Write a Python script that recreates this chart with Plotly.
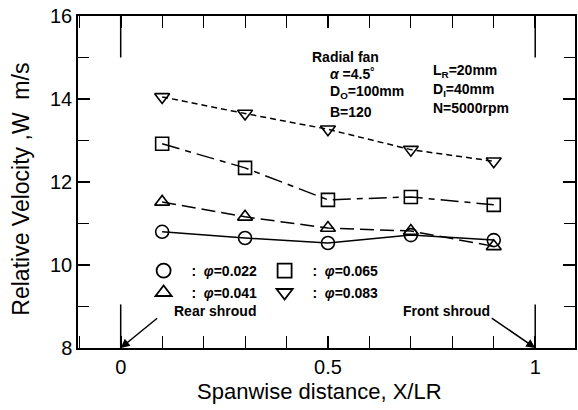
import plotly.graph_objects as go

x_pos = [0.1, 0.3, 0.5, 0.7, 0.9]
w_022 = [10.80, 10.65, 10.53, 10.72, 10.60]
w_041 = [11.52, 11.16, 10.89, 10.82, 10.45]
w_065 = [12.92, 12.34, 11.57, 11.64, 11.45]
w_083 = [14.05, 13.65, 13.27, 12.78, 12.50]

series = [
    ("0.022", w_022, "circle-open", "solid", "legend"),
    ("0.065", w_065, "square-open", "18px,6px,6px,6px", "legend"),
    ("0.041", w_041, "triangle-up-open", "14px,6px", "legend2"),
    ("0.083", w_083, "triangle-down-open", "6px,4px", "legend2"),
]

FONT = "Liberation Sans, Arial, sans-serif"
fig = go.Figure()
for name, vals, sym, dash, lg in series:
    fig.add_trace(go.Scatter(
        x=x_pos, y=vals, mode="lines+markers", showlegend=False,
        line=dict(color="black", width=1.5, dash=dash),
        marker=dict(symbol=sym, size=13, color="black", line=dict(width=1.6, color="black")),
    ))
for name, vals, sym, dash, lg in series:
    fig.add_trace(go.Scatter(
        x=[None], y=[None], mode="markers", name=f"<b>  :  <i>φ</i>={name}</b>",
        legend=lg,
        marker=dict(symbol=sym, size=14, color="black", line=dict(width=1.8, color="black")),
    ))

axis_common = dict(
    showline=True, linecolor="black", linewidth=1.5, mirror="ticks",
    ticks="inside", tickcolor="black", tickwidth=1.5, showgrid=False, zeroline=False,
    tickfont=dict(family=FONT, size=20, color="black"),
)
fig.update_xaxes(range=[-0.103, 1.096], tickvals=[0, 0.5, 1], ticktext=["0", "0.5", "1"],
                 ticklen=12, minor=dict(dtick=0.1, ticks="inside", ticklen=12, tickcolor="black", tickwidth=1.2),
                 **axis_common)
fig.update_yaxes(range=[8, 16], tickvals=[8, 10, 12, 14, 16], ticklen=12,
                 minor=dict(dtick=1, ticks="inside", ticklen=11, tickcolor="black", tickwidth=1.2),
                 **axis_common)

# axis titles
fig.add_annotation(xref="paper", yref="paper", x=0.485, y=-0.1325, text="Spanwise distance, X/LR",
                   showarrow=False, xanchor="center", yanchor="middle",
                   font=dict(family=FONT, size=22, color="black"))
fig.add_annotation(xref="paper", yref="paper", x=-0.114, y=0.478, text="Relative Velocity ,W  m/s",
                   textangle=-90, showarrow=False, xanchor="center", yanchor="middle",
                   font=dict(family=FONT, size=23, color="black"))

# long reference lines at X/LR = 0 and 1
for xv in (0, 1):
    fig.add_shape(type="line", xref="x", yref="y", x0=xv, x1=xv, y0=8, y1=9.05, line=dict(color="black", width=1.5))
    fig.add_shape(type="line", xref="x", yref="y", x0=xv, x1=xv, y0=15.0, y1=16, line=dict(color="black", width=1.5))

ann_font = dict(family=FONT, size=14, color="black")
texts = [
    (0.457, 15.02, "<b>Radial fan</b>"),
    (0.50, 14.60, "<b><i>α</i> =4.5˚</b>"),
    (0.50, 14.17, "<b>D<sub>O</sub>=100mm</b>"),
    (0.50, 13.68, "<b>B=120</b>"),
    (0.748, 14.67, "<b>L<sub>R</sub>=20mm</b>"),
    (0.748, 14.22, "<b>D<sub>I</sub>=40mm</b>"),
    (0.748, 13.79, "<b>N=5000rpm</b>"),
    (0.123, 8.88, "<b>Rear shroud</b>"),
    (0.676, 8.88, "<b>Front shroud</b>"),
]
for xa, ya, t in texts:
    fig.add_annotation(x=xa, y=ya, text=t, showarrow=False, xanchor="left", yanchor="middle", font=ann_font)

fig.add_annotation(x=0, y=8, ax=38, ay=-31, axref="pixel", ayref="pixel", text="",
                   showarrow=True, arrowhead=2, arrowsize=1.2, arrowwidth=1.5, arrowcolor="black")
fig.add_annotation(x=1, y=8, ax=-45, ay=-31, axref="pixel", ayref="pixel", text="",
                   showarrow=True, arrowhead=2, arrowsize=1.2, arrowwidth=1.5, arrowcolor="black")

leg_common = dict(orientation="h", xanchor="left", yanchor="middle", bgcolor="rgba(0,0,0,0)",
                  entrywidth=76, entrywidthmode="pixels", itemwidth=30,
                  font=dict(family=FONT, size=14, color="black"), tracegroupgap=0)
fig.update_layout(
    legend=dict(x=0.132, y=0.232, **leg_common),
    legend2=dict(x=0.132, y=0.166, **leg_common),
)

fig.update_layout(
    width=578, height=410, margin=dict(l=78, r=1, t=16, b=62),
    plot_bgcolor="white", paper_bgcolor="white",
    font=dict(family=FONT, color="black"),
)
fig.write_html("out.html")
